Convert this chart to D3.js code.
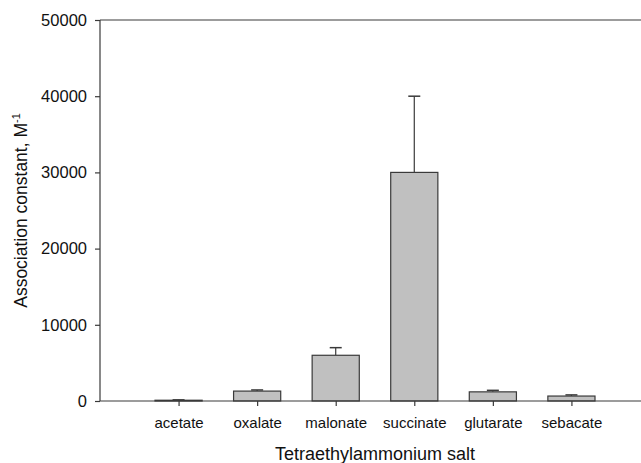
<!DOCTYPE html>
<html>
<head>
<meta charset="utf-8">
<title> Association constants </title>
<script type="text/javascript" src="https://cdn.jsdelivr.net/npm/d3@7"></script>
<style>
body { margin: 0; background: white; }
text { font-family: "Liberation Sans", Arial, sans-serif; fill: #111; }
</style>
</head>
<body>
<div></div>
<script type="text/javascript">

// data
var salts = ["acetate", "oxalate", "malonate", "succinate", "glutarate", "sebacate"];
var assocConst = [100, 1300, 6000, 30000, 1200, 650];
var upperError = [50, 150, 1000, 10000, 200, 150];
var yTicks = [0, 10000, 20000, 30000, 40000, 50000];

var w = 641,
    h = 463,
    lineCol = "#3a3a3a";

var svg = d3.select("div")
	    .append("svg")
	    .attr("width", w)
	    .attr("height", h);

// category slots 1..6 on a 0..7 frame
var x = d3.scaleLinear().domain([0, salts.length + 1]).range([100, 650]),
    y = d3.scaleLinear().domain([0, 50000]).range([401, 20]),
    step = x(1) - x(0),
    barW = step * 0.6;

var rows = salts.map(function(s, i){
	return {name : s, idx : i + 1, val : assocConst[i], err : upperError[i]};
});

// top frame line
svg.append("line")
   .attr("x1", x(0)).attr("x2", x(salts.length + 1))
   .attr("y1", y(50000)).attr("y2", y(50000))
   .attr("stroke", lineCol).attr("stroke-width", 1.2);

// error bars (upper only)
var eb = svg.append("g").selectAll("g").data(rows).enter().append("g");
eb.append("line")
  .attr("x1", function(d){ return x(d.idx) }).attr("x2", function(d){ return x(d.idx) })
  .attr("y1", function(d){ return y(d.val) }).attr("y2", function(d){ return y(d.val + d.err) })
  .attr("stroke", lineCol).attr("stroke-width", 1.2);
eb.append("line")
  .attr("x1", function(d){ return x(d.idx) - 6 }).attr("x2", function(d){ return x(d.idx) + 6 })
  .attr("y1", function(d){ return y(d.val + d.err) }).attr("y2", function(d){ return y(d.val + d.err) })
  .attr("stroke", lineCol).attr("stroke-width", 1.5);

// bars
svg.append("g").selectAll("rect").data(rows).enter().append("rect")
   .attr("x", function(d){ return x(d.idx) - barW/2 })
   .attr("y", function(d){ return y(d.val) })
   .attr("width", barW)
   .attr("height", function(d){ return y(0) - y(d.val) })
   .attr("fill", "#c0c0c0")
   .attr("stroke", lineCol)
   .attr("stroke-width", 1.2);

// axes
var yAxis = d3.axisLeft(y).tickValues(yTicks).tickSize(5).tickPadding(8).tickFormat(d3.format("d"));
var xAxis = d3.axisBottom(x).tickValues(d3.range(1, salts.length + 1)).tickSize(5).tickPadding(11)
	      .tickFormat(function(i){ return salts[i - 1] });

var gy = svg.append("g").attr("transform", "translate(" + x(0) + ",0)").call(yAxis);
var gx = svg.append("g").attr("transform", "translate(0," + y(0) + ")").call(xAxis);

[gx, gy].forEach(function(g){
	g.select(".domain").attr("stroke", lineCol).attr("stroke-width", 1.2);
	g.selectAll(".tick line").attr("stroke", lineCol).attr("stroke-width", 1.2);
	g.selectAll("text").attr("font-family", "Liberation Sans, Arial, sans-serif")
	 .attr("font-size", "15px").attr("fill", "#111");
});
gy.selectAll("text").attr("font-size", "16.5px");
gy.select(".domain").attr("d", "M0," + y(0) + "V" + y(50000));
gx.select(".domain").attr("d", "M" + x(0) + ",0H" + x(salts.length + 1));

// titles
svg.append("text")
   .attr("x", (x(0) + x(salts.length + 1)) / 2)
   .attr("y", 460)
   .attr("text-anchor", "middle")
   .attr("font-size", "18px")
   .text("Tetraethylammonium salt");

var yl = svg.append("text")
   .attr("transform", "translate(27," + (y(0) + y(50000)) / 2 + ") rotate(-90)")
   .attr("text-anchor", "middle")
   .attr("font-size", "17.5px");
yl.append("tspan").text("Association constant, M");
yl.append("tspan").attr("font-size", "11px").attr("dy", "-7").text("-1");

</script>
</body>
</html>
